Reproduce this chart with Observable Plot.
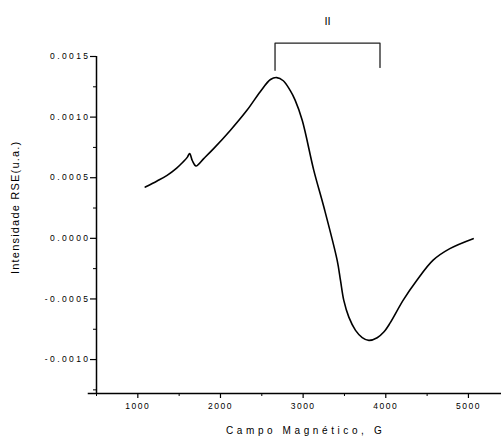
<!DOCTYPE html>
<html>
<head>
<meta charset="utf-8">
<script src="https://cdn.jsdelivr.net/npm/d3@7"></script>
<script src="https://cdn.jsdelivr.net/npm/@observablehq/plot@0.6"></script>
<style>
  html, body { margin: 0; padding: 0; background: #fff; }
</style>
</head>
<body>
<div id="chart"></div>
<script>
// EPR spectrum: magnetic field (G) vs. signal intensity (a.u.)
const campo = [1090, 1233, 1354, 1470, 1547, 1600, 1627, 1660, 1704, 1800, 1917, 2118, 2320, 2481, 2605, 2680, 2760, 2843, 2903, 2989, 3129, 3250, 3412, 3452, 3492, 3553, 3634, 3715, 3795, 3896, 3976, 4051, 4211, 4372, 4573, 4775, 5057];
const intensidade = [0.000423, 0.000473, 0.00052, 0.00058, 0.00063, 0.00067, 0.0007, 0.00064, 0.000597, 0.00066, 0.00074, 0.00089, 0.001056, 0.00121, 0.00131, 0.001326, 0.0013, 0.00122, 0.00114, 0.000974, 0.000561, 0.00026, -0.000182, -0.000347, -0.000512, -0.00065, -0.000759, -0.000819, -0.000842, -0.00082, -0.000773, -0.0007, -0.00051, -0.00035, -0.00018, -0.000085, -0.000003];

// Bracket marking signal region II
const colcheteX = [2660, 2660, 3930, 3930];
const colcheteY = [0.001386, 0.00161, 0.00161, 0.00141];
const rotuloRegiao = "II";

const ticksX = [1000, 2000, 3000, 4000, 5000];
const ticksXMenores = [500, 1500, 2500, 3500, 4500];
const ticksY = [-0.001, -0.0005, 0, 0.0005, 0.001, 0.0015];
const ticksYMenores = [-0.00125, -0.00075, -0.00025, 0.00025, 0.00075, 0.00125];

const tituloX = "Campo Magnético, G";
const tituloY = "Intensidade RSE(u.a.)";

const xMin = 500, xMax = 5400, yMin = -0.00128, yMax = 0.0015;

const espectro = campo.map((c, i) => ({campo: c, intensidade: intensidade[i]}));
const colchete = colcheteX.map((c, i) => ({x: c, y: colcheteY[i]}));

const chart = Plot.plot({
  width: 501,
  height: 439,
  marginLeft: 96,
  marginRight: 0,
  marginTop: 56,
  marginBottom: 46,
  style: {fontFamily: "'Liberation Sans', Arial, sans-serif", fontSize: "8px", color: "#000", background: "#fff"},
  x: {domain: [xMin, xMax]},
  y: {domain: [yMin, yMax]},
  marks: [
    // minor ticks
    Plot.axisX(ticksXMenores, {tickSize: 3, text: null, strokeWidth: 1}),
    Plot.axisY(ticksYMenores, {tickSize: 3, text: null, strokeWidth: 1}),
    // major ticks with labels
    Plot.axisX(ticksX, {tickSize: 5, tickPadding: 4, tickFormat: d => String(d), label: null, strokeWidth: 1.2, fontSize: 8.5}),
    Plot.axisY(ticksY, {tickSize: 6, tickPadding: 0, tickFormat: d => d.toFixed(4), label: null, strokeWidth: 1.2, fontSize: 8.5}),
    // axis lines
    Plot.ruleX([xMin], {y1: yMin, y2: yMax, strokeWidth: 1.5}),
    Plot.ruleY([yMin], {x1: xMin - 100, x2: xMax, strokeWidth: 1.5}),
    // spectrum
    Plot.line(espectro, {x: "campo", y: "intensidade", curve: "catmull-rom", stroke: "#000", strokeWidth: 1.6}),
    // region bracket and label
    Plot.line(colchete, {x: "x", y: "y", stroke: "#222", strokeWidth: 1.3}),
    Plot.text([rotuloRegiao], {x: (colcheteX[0] + colcheteX[2]) / 2, y: 0.00179, text: d => d, fontSize: 11, fill: "#000"}),
    // axis titles
    Plot.text([tituloX], {x: 3030, y: -0.00159, text: d => d, fontSize: 10}),
    Plot.text([tituloY], {x: -480, y: 0.000256, rotate: -90, text: d => d, fontSize: 11})
  ]
});

// letter spacing for the wide, spaced-out lettering
const espacamentoTexto = {[tituloX]: "3.6px", [tituloY]: "1.2px"};
d3.select(chart).selectAll("text").each(function () {
  const grupo = this.parentNode.getAttribute("aria-label") || "";
  let valor = espacamentoTexto[this.textContent];
  if (grupo.startsWith("x-axis")) valor = "1.5px";
  if (grupo.startsWith("y-axis")) valor = "2.4px";
  if (valor) this.style.letterSpacing = valor;
});

document.getElementById("chart").appendChild(chart);
</script>
</body>
</html>
